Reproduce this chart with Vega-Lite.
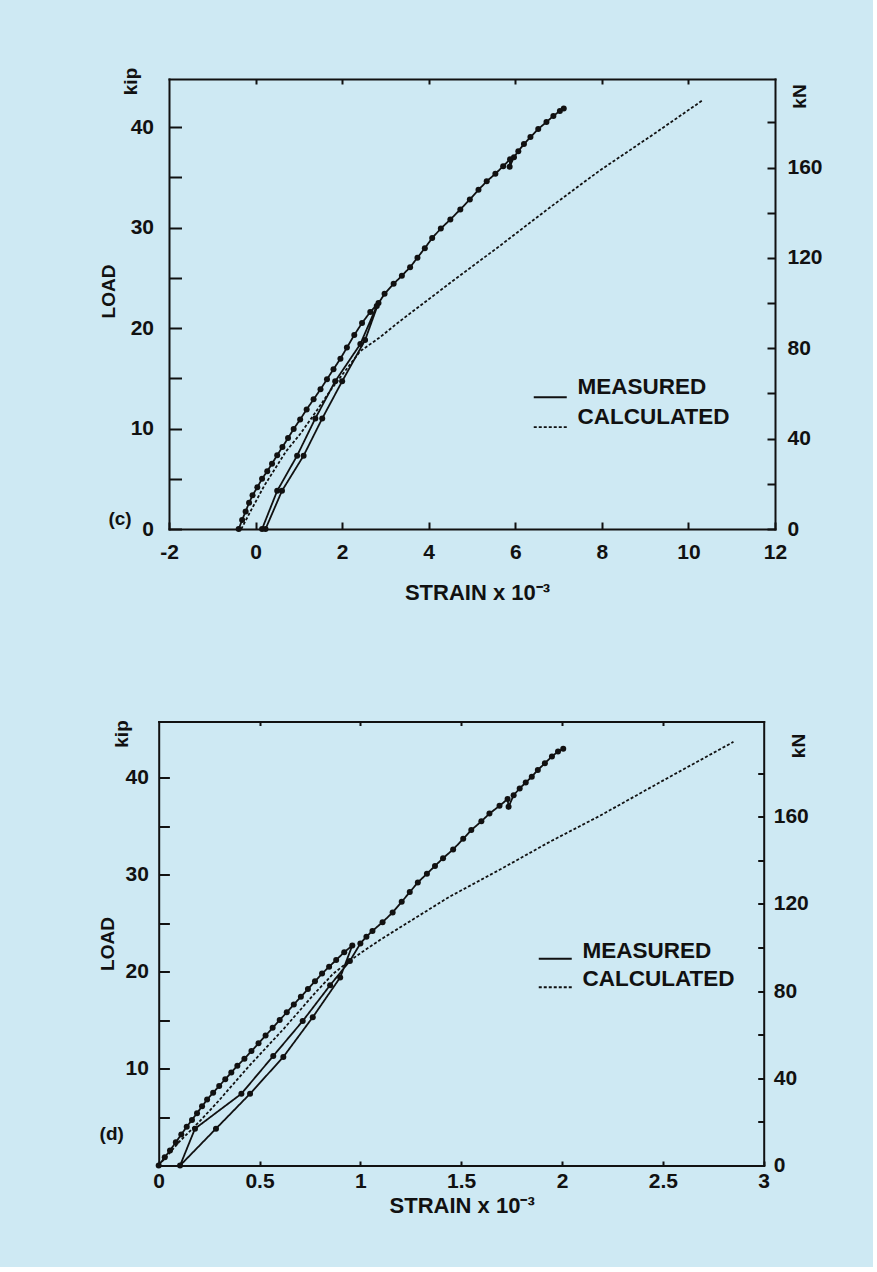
{
  "$schema": "https://vega.github.io/schema/vega-lite/v6.json",
  "background": "#cee9f3",
  "padding": {"left": 98, "top": 67, "right": 50, "bottom": 50},
  "spacing": 116.5,
  "resolve": {"scale": {"strokeDash": "independent"}, "legend": {"strokeDash": "independent"}},
  "config": {
    "font": "Liberation Sans",
    "view": {"stroke": null},
    "axis": {
      "domain": true, "domainColor": "#111111", "domainWidth": 2, "domainCap": "square", "grid": false,
      "labelFont": "Liberation Sans", "labelFontSize": 21, "labelFontWeight": "bold", "labelColor": "#111111",
      "labelFlush": false, "labelOverlap": false, "labelBound": false,
      "tickColor": "#111111", "tickWidth": 2,
      "titleFont": "Liberation Sans", "titleFontSize": 19, "titleFontWeight": "bold", "titleColor": "#111111"
    },
    "legend": {
      "labelFont": "Liberation Sans", "labelFontSize": 22.5, "labelFontWeight": "bold", "labelColor": "#111111",
      "padding": 0
    },
    "text": {"font": "Liberation Sans", "fontSize": 19, "fontWeight": "bold", "color": "#111111"}
  },
  "datasets": {
    "c": [
      {"s":"MEASURED","i":1,"x":-0.39,"y":0},
      {"s":"MEASURED","i":2,"x":-0.31,"y":0.9},
      {"s":"MEASURED","i":3,"x":-0.23,"y":1.75},
      {"s":"MEASURED","i":4,"x":-0.15,"y":2.6},
      {"s":"MEASURED","i":5,"x":-0.07,"y":3.35},
      {"s":"MEASURED","i":6,"x":0.04,"y":4.15},
      {"s":"MEASURED","i":7,"x":0.15,"y":5.0},
      {"s":"MEASURED","i":8,"x":0.27,"y":5.75},
      {"s":"MEASURED","i":9,"x":0.38,"y":6.5},
      {"s":"MEASURED","i":10,"x":0.5,"y":7.35},
      {"s":"MEASURED","i":11,"x":0.62,"y":8.15},
      {"s":"MEASURED","i":12,"x":0.75,"y":9.05},
      {"s":"MEASURED","i":13,"x":0.88,"y":9.95},
      {"s":"MEASURED","i":14,"x":1.03,"y":10.9},
      {"s":"MEASURED","i":15,"x":1.18,"y":11.9},
      {"s":"MEASURED","i":16,"x":1.34,"y":12.9},
      {"s":"MEASURED","i":17,"x":1.5,"y":13.9},
      {"s":"MEASURED","i":18,"x":1.65,"y":14.9},
      {"s":"MEASURED","i":19,"x":1.8,"y":15.9},
      {"s":"MEASURED","i":20,"x":1.96,"y":16.95},
      {"s":"MEASURED","i":21,"x":2.11,"y":18.05},
      {"s":"MEASURED","i":22,"x":2.28,"y":19.3},
      {"s":"MEASURED","i":23,"x":2.46,"y":20.5},
      {"s":"MEASURED","i":24,"x":2.65,"y":21.6},
      {"s":"MEASURED","i":25,"x":2.84,"y":22.5},
      {"s":"MEASURED","i":26,"x":2.53,"y":18.8},
      {"s":"MEASURED","i":27,"x":2.0,"y":14.7},
      {"s":"MEASURED","i":28,"x":1.54,"y":11.0},
      {"s":"MEASURED","i":29,"x":1.11,"y":7.3},
      {"s":"MEASURED","i":30,"x":0.61,"y":3.8},
      {"s":"MEASURED","i":31,"x":0.23,"y":0},
      {"s":"MEASURED","i":32,"x":0.15,"y":0},
      {"s":"MEASURED","i":33,"x":0.5,"y":3.8},
      {"s":"MEASURED","i":34,"x":0.96,"y":7.3},
      {"s":"MEASURED","i":35,"x":1.38,"y":11.0},
      {"s":"MEASURED","i":36,"x":1.84,"y":14.7},
      {"s":"MEASURED","i":37,"x":2.42,"y":18.4},
      {"s":"MEASURED","i":38,"x":2.8,"y":22.2},
      {"s":"MEASURED","i":39,"x":2.98,"y":23.4},
      {"s":"MEASURED","i":40,"x":3.19,"y":24.4},
      {"s":"MEASURED","i":41,"x":3.38,"y":25.2},
      {"s":"MEASURED","i":42,"x":3.57,"y":26.05},
      {"s":"MEASURED","i":43,"x":3.74,"y":27.0},
      {"s":"MEASURED","i":44,"x":3.91,"y":27.95},
      {"s":"MEASURED","i":45,"x":4.08,"y":28.95},
      {"s":"MEASURED","i":46,"x":4.28,"y":29.9},
      {"s":"MEASURED","i":47,"x":4.5,"y":30.8},
      {"s":"MEASURED","i":48,"x":4.73,"y":31.8},
      {"s":"MEASURED","i":49,"x":4.95,"y":32.8},
      {"s":"MEASURED","i":50,"x":5.15,"y":33.75},
      {"s":"MEASURED","i":51,"x":5.34,"y":34.6},
      {"s":"MEASURED","i":52,"x":5.54,"y":35.35},
      {"s":"MEASURED","i":53,"x":5.72,"y":36.1},
      {"s":"MEASURED","i":54,"x":5.88,"y":36.8},
      {"s":"MEASURED","i":55,"x":5.87,"y":36.05},
      {"s":"MEASURED","i":56,"x":5.97,"y":37.0},
      {"s":"MEASURED","i":57,"x":6.07,"y":37.6},
      {"s":"MEASURED","i":58,"x":6.2,"y":38.3},
      {"s":"MEASURED","i":59,"x":6.35,"y":39.0},
      {"s":"MEASURED","i":60,"x":6.53,"y":39.8},
      {"s":"MEASURED","i":61,"x":6.72,"y":40.5},
      {"s":"MEASURED","i":62,"x":6.88,"y":41.1},
      {"s":"MEASURED","i":63,"x":7.03,"y":41.6},
      {"s":"MEASURED","i":64,"x":7.12,"y":41.85},
      {"s":"CALCULATED","i":1,"x":-0.33,"y":0},
      {"s":"CALCULATED","i":2,"x":-0.1,"y":1.9},
      {"s":"CALCULATED","i":3,"x":0.2,"y":4.3},
      {"s":"CALCULATED","i":4,"x":0.42,"y":5.8},
      {"s":"CALCULATED","i":5,"x":0.7,"y":7.7},
      {"s":"CALCULATED","i":6,"x":1.03,"y":9.45},
      {"s":"CALCULATED","i":7,"x":1.4,"y":11.7},
      {"s":"CALCULATED","i":8,"x":1.73,"y":13.8},
      {"s":"CALCULATED","i":9,"x":2.1,"y":15.9},
      {"s":"CALCULATED","i":10,"x":2.42,"y":17.7},
      {"s":"CALCULATED","i":11,"x":2.85,"y":19.0},
      {"s":"CALCULATED","i":12,"x":3.34,"y":20.7},
      {"s":"CALCULATED","i":13,"x":4.5,"y":24.5},
      {"s":"CALCULATED","i":14,"x":5.65,"y":28.2},
      {"s":"CALCULATED","i":15,"x":6.8,"y":32.0},
      {"s":"CALCULATED","i":16,"x":7.96,"y":35.7},
      {"s":"CALCULATED","i":17,"x":9.2,"y":39.3},
      {"s":"CALCULATED","i":18,"x":10.34,"y":42.7}
    ],
    "d": [
      {"s":"MEASURED","i":1,"x":0,"y":0},
      {"s":"MEASURED","i":2,"x":0.03,"y":0.85},
      {"s":"MEASURED","i":3,"x":0.056,"y":1.55},
      {"s":"MEASURED","i":4,"x":0.085,"y":2.4},
      {"s":"MEASURED","i":5,"x":0.112,"y":3.2},
      {"s":"MEASURED","i":6,"x":0.139,"y":4.0},
      {"s":"MEASURED","i":7,"x":0.165,"y":4.7},
      {"s":"MEASURED","i":8,"x":0.19,"y":5.4},
      {"s":"MEASURED","i":9,"x":0.215,"y":6.1},
      {"s":"MEASURED","i":10,"x":0.24,"y":6.8},
      {"s":"MEASURED","i":11,"x":0.27,"y":7.5},
      {"s":"MEASURED","i":12,"x":0.3,"y":8.2},
      {"s":"MEASURED","i":13,"x":0.33,"y":8.9},
      {"s":"MEASURED","i":14,"x":0.36,"y":9.6},
      {"s":"MEASURED","i":15,"x":0.39,"y":10.3},
      {"s":"MEASURED","i":16,"x":0.425,"y":11.0},
      {"s":"MEASURED","i":17,"x":0.46,"y":11.8},
      {"s":"MEASURED","i":18,"x":0.495,"y":12.6},
      {"s":"MEASURED","i":19,"x":0.53,"y":13.4},
      {"s":"MEASURED","i":20,"x":0.565,"y":14.2},
      {"s":"MEASURED","i":21,"x":0.6,"y":15.0},
      {"s":"MEASURED","i":22,"x":0.635,"y":15.8},
      {"s":"MEASURED","i":23,"x":0.67,"y":16.6},
      {"s":"MEASURED","i":24,"x":0.705,"y":17.4},
      {"s":"MEASURED","i":25,"x":0.74,"y":18.2},
      {"s":"MEASURED","i":26,"x":0.775,"y":19.0},
      {"s":"MEASURED","i":27,"x":0.81,"y":19.8},
      {"s":"MEASURED","i":28,"x":0.845,"y":20.5},
      {"s":"MEASURED","i":29,"x":0.88,"y":21.2},
      {"s":"MEASURED","i":30,"x":0.92,"y":22.0},
      {"s":"MEASURED","i":31,"x":0.96,"y":22.7},
      {"s":"MEASURED","i":32,"x":0.9,"y":19.4},
      {"s":"MEASURED","i":33,"x":0.764,"y":15.3},
      {"s":"MEASURED","i":34,"x":0.618,"y":11.2},
      {"s":"MEASURED","i":35,"x":0.453,"y":7.4},
      {"s":"MEASURED","i":36,"x":0.284,"y":3.8},
      {"s":"MEASURED","i":37,"x":0.106,"y":0},
      {"s":"MEASURED","i":38,"x":0.18,"y":3.8},
      {"s":"MEASURED","i":39,"x":0.41,"y":7.4},
      {"s":"MEASURED","i":40,"x":0.568,"y":11.3},
      {"s":"MEASURED","i":41,"x":0.714,"y":14.9},
      {"s":"MEASURED","i":42,"x":0.85,"y":18.6},
      {"s":"MEASURED","i":43,"x":0.948,"y":21.1},
      {"s":"MEASURED","i":44,"x":1.0,"y":22.9},
      {"s":"MEASURED","i":45,"x":1.03,"y":23.6},
      {"s":"MEASURED","i":46,"x":1.06,"y":24.2},
      {"s":"MEASURED","i":47,"x":1.11,"y":25.1},
      {"s":"MEASURED","i":48,"x":1.16,"y":26.1},
      {"s":"MEASURED","i":49,"x":1.205,"y":27.2},
      {"s":"MEASURED","i":50,"x":1.245,"y":28.2},
      {"s":"MEASURED","i":51,"x":1.285,"y":29.2},
      {"s":"MEASURED","i":52,"x":1.33,"y":30.1},
      {"s":"MEASURED","i":53,"x":1.37,"y":30.9},
      {"s":"MEASURED","i":54,"x":1.41,"y":31.7},
      {"s":"MEASURED","i":55,"x":1.46,"y":32.6},
      {"s":"MEASURED","i":56,"x":1.51,"y":33.7},
      {"s":"MEASURED","i":57,"x":1.55,"y":34.6},
      {"s":"MEASURED","i":58,"x":1.6,"y":35.5},
      {"s":"MEASURED","i":59,"x":1.64,"y":36.3},
      {"s":"MEASURED","i":60,"x":1.69,"y":37.1},
      {"s":"MEASURED","i":61,"x":1.73,"y":37.8},
      {"s":"MEASURED","i":62,"x":1.735,"y":37.0},
      {"s":"MEASURED","i":63,"x":1.76,"y":38.2},
      {"s":"MEASURED","i":64,"x":1.79,"y":38.9},
      {"s":"MEASURED","i":65,"x":1.82,"y":39.5},
      {"s":"MEASURED","i":66,"x":1.85,"y":40.1},
      {"s":"MEASURED","i":67,"x":1.88,"y":40.8},
      {"s":"MEASURED","i":68,"x":1.915,"y":41.5},
      {"s":"MEASURED","i":69,"x":1.95,"y":42.2},
      {"s":"MEASURED","i":70,"x":1.98,"y":42.7},
      {"s":"MEASURED","i":71,"x":2.006,"y":43.0},
      {"s":"CALCULATED","i":1,"x":0,"y":0},
      {"s":"CALCULATED","i":2,"x":0.1,"y":2.4},
      {"s":"CALCULATED","i":3,"x":0.205,"y":4.6},
      {"s":"CALCULATED","i":4,"x":0.29,"y":6.5},
      {"s":"CALCULATED","i":5,"x":0.37,"y":8.4},
      {"s":"CALCULATED","i":6,"x":0.45,"y":10.3},
      {"s":"CALCULATED","i":7,"x":0.535,"y":12.2},
      {"s":"CALCULATED","i":8,"x":0.62,"y":14.1},
      {"s":"CALCULATED","i":9,"x":0.7,"y":16.0},
      {"s":"CALCULATED","i":10,"x":0.78,"y":17.9},
      {"s":"CALCULATED","i":11,"x":0.866,"y":19.8},
      {"s":"CALCULATED","i":12,"x":0.94,"y":21.0},
      {"s":"CALCULATED","i":13,"x":1.0,"y":21.9},
      {"s":"CALCULATED","i":14,"x":1.1,"y":23.3},
      {"s":"CALCULATED","i":15,"x":1.2,"y":24.6},
      {"s":"CALCULATED","i":16,"x":1.44,"y":27.7},
      {"s":"CALCULATED","i":17,"x":1.69,"y":30.5},
      {"s":"CALCULATED","i":18,"x":1.94,"y":33.4},
      {"s":"CALCULATED","i":19,"x":2.19,"y":36.1},
      {"s":"CALCULATED","i":20,"x":2.5,"y":39.7},
      {"s":"CALCULATED","i":21,"x":2.85,"y":43.7}
    ]
  },
  "vconcat": [
    {
      "width": 606,
      "height": 450,
      "data": {"name": "c"},
      "layer": [
        {
          "mark": {"type": "line", "stroke": "#111111", "strokeWidth": 1.8},
          "encoding": {
            "x": {"field": "x", "type": "quantitative", "scale": {"domain": [-2, 12], "nice": false, "zero": false},
              "axis": {"orient": "bottom", "values": [-2, 0, 2, 4, 6, 8, 10, 12], "labelExpr": "datum.value + ''",
                "tickSize": -7, "labelPadding": 19, "title": "STRAIN x 10⁻³", "titleFontSize": 22,
                "titleX": 308, "titleY": 70, "titleAlign": "center", "titleBaseline": "alphabetic"}},
            "y": {"field": "y", "type": "quantitative", "scale": {"domain": [0, 44.78], "nice": false},
              "axis": {"orient": "left", "values": [0, 5, 10, 15, 20, 25, 30, 35, 40],
                "labelExpr": "datum.value % 10 === 0 ? datum.value + '' : ''",
                "tickSize": -12.5, "labelPadding": 28, "title": "LOAD",
                "titleX": -60.5, "titleY": 212, "titleAngle": -90, "titleAlign": "center", "titleBaseline": "middle"}},
            "strokeDash": {"field": "s", "type": "nominal",
              "scale": {"domain": ["MEASURED", "CALCULATED"], "range": [[1, 0], [3, 2]]},
              "legend": {"orient": "none", "legendX": 370, "legendY": 307, "title": null,
                "symbolType": "M-3,0H3", "symbolSize": 121, "symbolStrokeWidth": 1.8, "symbolStrokeColor": "#111111",
                "labelBaseline": "alphabetic", "labelOffset": 16, "rowPadding": 4.8,
                "encode": {
                  "symbols": {"update": {"strokeDash": {"signal": "datum.value === 'CALCULATED' ? [10, 7] : [1, 0]"}}},
                  "labels": {"update": {"dy": {"value": -3}}}
                }}},
            "order": {"field": "i", "type": "quantitative"}
          }
        },
        {
          "transform": [{"filter": "datum.s === 'MEASURED'"}],
          "mark": {"type": "point", "shape": "circle", "filled": true, "size": 36, "color": "#111111", "opacity": 1},
          "encoding": {
            "x": {"field": "x", "type": "quantitative",
              "axis": {"orient": "top", "values": [0, 2, 4, 6, 8, 10], "labels": false, "tickSize": -5, "title": null}},
            "y": {"field": "y", "type": "quantitative",
              "axis": {"orient": "right", "values": [0, 4.4964, 8.9928, 13.4892, 17.9856, 22.482, 26.9784, 31.4748, 35.9712, 40.4676],
                "labelExpr": "round(datum.value * 4.448) % 40 === 0 ? '' + round(datum.value * 4.448) : ''",
                "tickSize": -8, "labelPadding": 20, "title": "kN",
                "titleX": 24, "titleY": 17, "titleAngle": -90, "titleAlign": "center", "titleBaseline": "middle"}}
          }
        },
        {
          "data": {"values": [{}]},
          "mark": {"type": "text", "align": "center", "baseline": "middle", "dx": -49, "dy": -10},
          "encoding": {
            "x": {"datum": -2, "type": "quantitative", "axis": null},
            "y": {"datum": 0, "type": "quantitative",
              "axis": {"orient": "left", "labels": false, "ticks": false, "domain": false, "title": "kip",
                "titleX": -39, "titleY": 2, "titleAngle": -90, "titleAlign": "center", "titleBaseline": "middle"}},
            "text": {"value": "(c)"}
          }
        }
      ],
      "resolve": {"axis": {"x": "independent", "y": "independent"}}
    },
    {
      "width": 605,
      "height": 444,
      "data": {"name": "d"},
      "layer": [
        {
          "mark": {"type": "line", "stroke": "#111111", "strokeWidth": 1.8},
          "encoding": {
            "x": {"field": "x", "type": "quantitative", "scale": {"domain": [0, 3], "range": [-10.3, 594.7], "nice": false, "zero": false},
              "axis": {"orient": "bottom", "values": [0, 0.5, 1, 1.5, 2, 2.5, 3], "labelExpr": "datum.value + ''",
                "tickSize": -4.5, "labelPadding": 9, "title": "STRAIN x 10⁻³", "titleFontSize": 22,
                "titleX": 292.7, "titleY": 47, "titleAlign": "center", "titleBaseline": "alphabetic"}},
            "y": {"field": "y", "type": "quantitative", "scale": {"domain": [0, 45.8], "nice": false},
              "axis": {"orient": "left", "offset": 10.3, "values": [0, 5, 10, 15, 20, 25, 30, 35, 40],
                "labelExpr": "datum.value % 10 === 0 && datum.value > 0 ? datum.value + '' : ''",
                "tickSize": -10.7, "labelPadding": 21, "title": "LOAD",
                "titleX": -51, "titleY": 222, "titleAngle": -90, "titleAlign": "center", "titleBaseline": "middle"}},
            "strokeDash": {"field": "s", "type": "nominal",
              "scale": {"domain": ["MEASURED", "CALCULATED"], "range": [[1, 0], [3, 2]]},
              "legend": {"orient": "none", "legendX": 375, "legendY": 226, "title": null,
                "symbolType": "M-3,0H3", "symbolSize": 121, "symbolStrokeWidth": 1.8, "symbolStrokeColor": "#111111",
                "labelBaseline": "alphabetic", "labelOffset": 16, "rowPadding": 5.5,
                "encode": {
                  "symbols": {"update": {"strokeDash": {"signal": "datum.value === 'CALCULATED' ? [10, 7] : [1, 0]"}}},
                  "labels": {"update": {"dy": {"value": -1}}}
                }}},
            "order": {"field": "i", "type": "quantitative"}
          }
        },
        {
          "transform": [{"filter": "datum.s === 'MEASURED'"}],
          "mark": {"type": "point", "shape": "circle", "filled": true, "size": 36, "color": "#111111", "opacity": 1},
          "encoding": {
            "x": {"field": "x", "type": "quantitative",
              "axis": {"orient": "top", "values": [0.5, 1, 1.5, 2, 2.5], "labels": false, "tickSize": -4, "title": null}},
            "y": {"field": "y", "type": "quantitative",
              "axis": {"orient": "right", "offset": -10.3, "values": [0, 4.4964, 8.9928, 13.4892, 17.9856, 22.482, 26.9784, 31.4748, 35.9712, 40.4676],
                "labelExpr": "round(datum.value * 4.448) % 40 === 0 ? '' + round(datum.value * 4.448) : ''",
                "tickSize": -6, "labelPadding": 15.5, "title": "kN",
                "titleX": 35, "titleY": 24, "titleAngle": -90, "titleAlign": "center", "titleBaseline": "middle"}}
          }
        },
        {
          "data": {"values": [{}]},
          "mark": {"type": "text", "align": "center", "baseline": "middle", "dx": -47, "dy": -32},
          "encoding": {
            "x": {"datum": 0, "type": "quantitative", "axis": null},
            "y": {"datum": 0, "type": "quantitative",
              "axis": {"orient": "left", "offset": 10.3, "labels": false, "ticks": false, "domain": false, "title": "kip",
                "titleX": -37, "titleY": 12, "titleAngle": -90, "titleAlign": "center", "titleBaseline": "middle"}},
            "text": {"value": "(d)"}
          }
        }
      ],
      "resolve": {"axis": {"x": "independent", "y": "independent"}}
    }
  ]
}
